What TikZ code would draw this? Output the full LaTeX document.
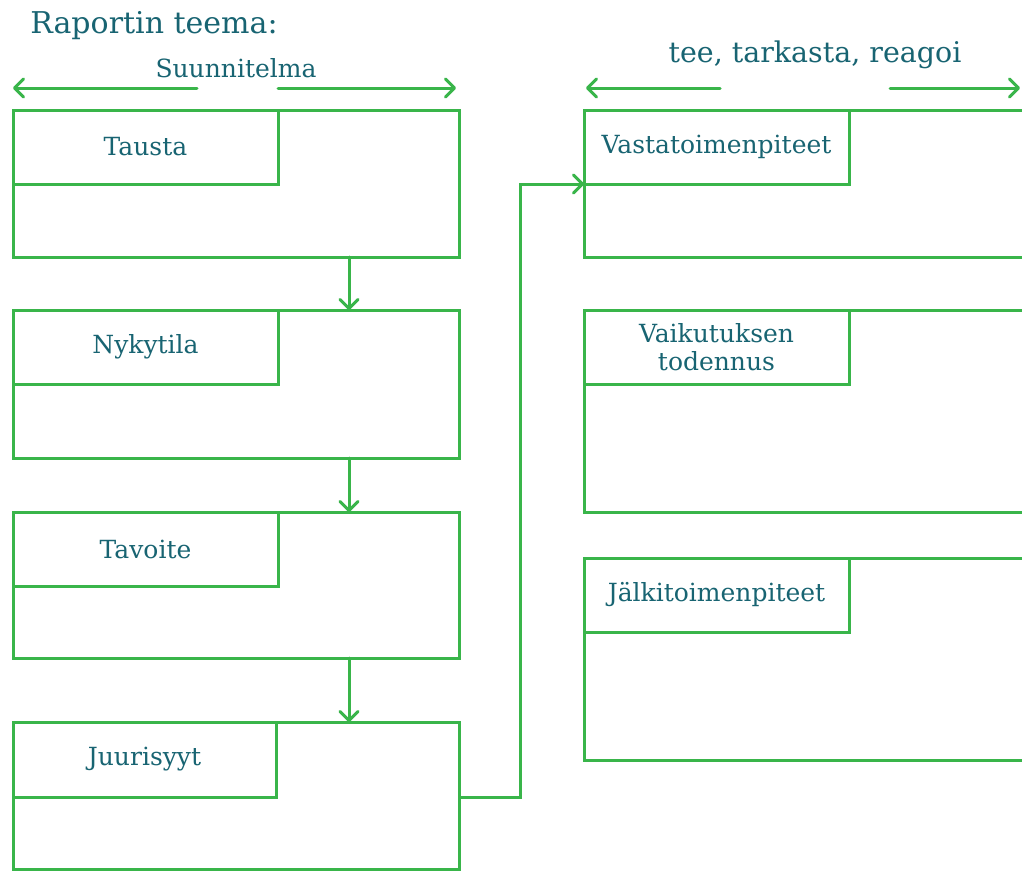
\documentclass[tikz,border=0pt]{standalone}
\usepackage{fontspec}
\setmainfont{DejaVu Serif}
\usetikzlibrary{arrows.meta}
\definecolor{lineg}{RGB}{57,181,74}
\definecolor{txt}{RGB}{24,100,114}
\tikzset{
  frame/.style={draw=lineg, line width=3pt, inner sep=0pt, outer sep=0pt, anchor=north west},
  hdr/.style={frame, fill=white, minimum width=265pt, minimum height=74pt, align=center,
              text=txt, font=\fontsize{25}{31}\selectfont},
  lbl/.style={text=txt, inner sep=0pt},
  arr/.style={draw=lineg, line width=3pt, line cap=round,
              -{Straight Barb[length=9pt,width=18pt,line width=3pt,round]}},
  link/.style={draw=lineg, line width=3pt}
}
\begin{document}
\begin{tikzpicture}[x=1pt,y=-1pt]
\clip (0,0) rectangle (1022,870);
\fill[white] (0,0) rectangle (1022,870);

% titles
\node[lbl, font=\fontsize{30}{36}\selectfont] (title) at (154,26) {Raportin teema:};
\node[lbl, font=\fontsize{25}{30}\selectfont] (plan) at (236,68) {Suunnitelma};
\node[lbl, font=\fontsize{28.5}{34}\selectfont] (act) at (815,55) {tee, tarkasta, reagoi};

% span arrows above the columns
\coordinate (pl1) at (197,88); \coordinate (pl2) at (13,88);
\coordinate (pr1) at (278,88); \coordinate (pr2) at (456,88);
\coordinate (al1) at (720,88); \coordinate (al2) at (586,88);
\coordinate (ar1) at (890,88); \coordinate (ar2) at (1020,88);
\draw[arr] (pl1) -- (pl2);
\draw[arr] (pr1) -- (pr2);
\draw[arr] (al1) -- (al2);
\draw[arr] (ar1) -- (ar2);

% left column: planning
\node[frame, minimum width=446pt, minimum height=147pt] (b1) at (13,110) {};
\node[hdr] (h1) at (13,110) {Tausta};
\node[frame, minimum width=446pt, minimum height=148pt] (b2) at (13,310) {};
\node[hdr] (h2) at (13,310) {Nykytila};
\node[frame, minimum width=446pt, minimum height=146pt] (b3) at (13,512) {};
\node[hdr] (h3) at (13,512) {Tavoite};
\node[frame, minimum width=446pt, minimum height=147pt] (b4) at (13,722) {};
\node[hdr, minimum width=263pt, minimum height=75pt] (h4) at (13,722) {Juurisyyt};

% right column: do, check, act
\node[frame, minimum width=460pt, minimum height=147pt] (r1) at (584,110) {};
\node[hdr] (g1) at (584,110) {Vastatoimenpiteet};
\node[frame, minimum width=460pt, minimum height=202pt] (r2) at (584,310) {};
\node[hdr] (g2) at (584,310) {Vaikutuksen\\[-3pt]todennus};
\node[frame, minimum width=460pt, minimum height=202pt] (r3) at (584,558) {};
\node[hdr] (g3) at (584,558) {Jälkitoimenpiteet};

% flow between the planning boxes
\coordinate (ax) at (349,0);
\draw[arr] (b1.south -| ax) -- (b2.north -| ax);
\draw[arr] (b2.south -| ax) -- (b3.north -| ax);
\draw[arr] (b3.south -| ax) -- (b4.north -| ax);

% root causes lead to countermeasures
\coordinate (cx) at (520,500);
\draw[link] (h4.south -| b4.east) -| (cx);
\draw[arr] (cx) |- (g1.south west);
\end{tikzpicture}
\end{document}
